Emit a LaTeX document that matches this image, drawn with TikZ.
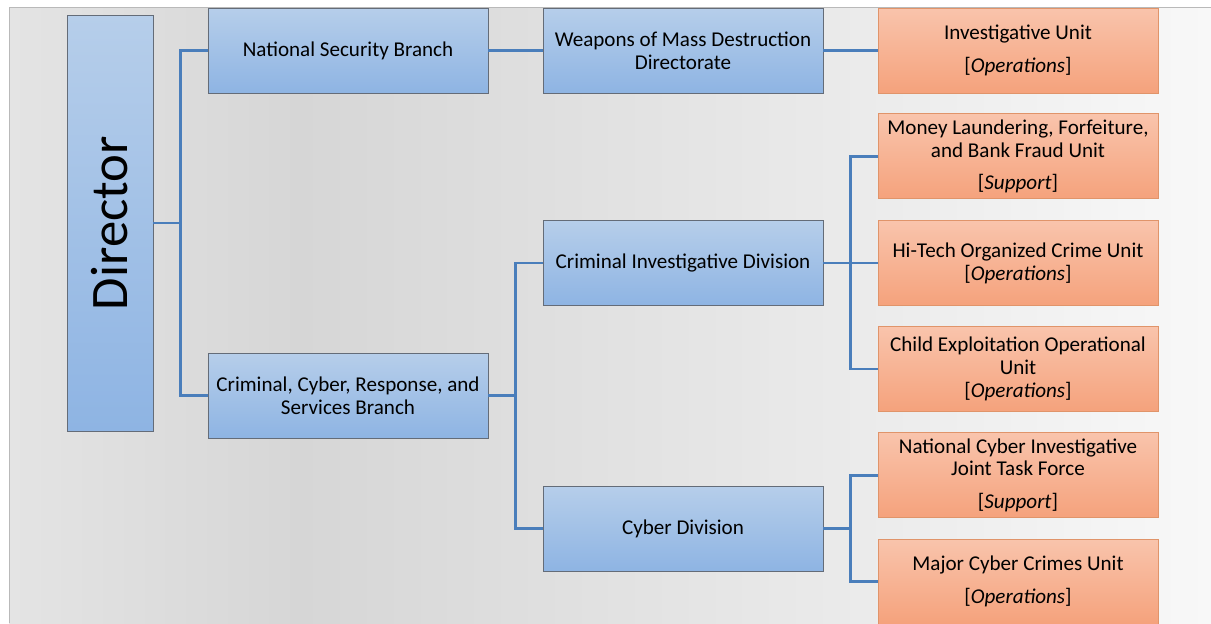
\documentclass[tikz,border=0pt]{standalone}
\usepackage{fontspec}
\setmainfont{Carlito}
\usetikzlibrary{calc}
\definecolor{wireblue}{RGB}{74,126,187}
\definecolor{bluetop}{RGB}{182,206,234}
\definecolor{bluebot}{RGB}{142,180,227}
\definecolor{blueline}{RGB}{100,108,120}
\definecolor{orangetop}{RGB}{249,196,172}
\definecolor{orangebot}{RGB}{245,162,124}
\definecolor{orangeline}{RGB}{224,148,106}
\definecolor{bgleft}{RGB}{228,228,228}
\definecolor{bgmid}{RGB}{214,214,214}
\definecolor{bgright}{RGB}{248,248,248}
\tikzstyle{boxstyle}=[minimum width=5.6cm,minimum height=1.7cm,align=center,inner sep=2pt,font=\fontsize{12}{13}\selectfont]
\tikzstyle{branchstyle}=[boxstyle,draw=blueline,top color=bluetop,bottom color=bluebot]
\tikzstyle{unitstyle}=[boxstyle,draw=orangeline,top color=orangetop,bottom color=orangebot]
\tikzstyle{wire}=[draw=wireblue,line width=1.6pt]
\newcommand{\roletag}[1]{{[}\textit{#1}{]}}

\begin{document}
\begin{tikzpicture}[x=0.02cm,y=-0.02cm]

      % one unit is one pixel of the original chart
      \def\xspace{335} % horizontal distance between columns
      \def\yspace{106.3} % vertical distance between unit boxes
      \def\shift{27} % length of the connector stubs
      \def\gap{\\[5.5pt]} % extra space above the role tag

      \useasboundingbox (0,0) rectangle (1211,623);

      % background panel (darkest a quarter of the way across)
      \shade[left color=bgleft,right color=bgmid] (9,7) rectangle (300,623);
      \shade[left color=bgmid,right color=bgright] (299.5,7) rectangle (1211,623);
      \draw[gray!55] (9,623) -- (9,7) -- (1211,7);

      % director
      \node[draw=blueline,top color=bluetop,bottom color=bluebot,minimum width=1.72cm,minimum height=8.32cm,inner sep=0pt,font=\fontsize{30}{36}\selectfont] at (110,223) (dir) {\rotatebox{90}{Director}};

      % first col: branches
      \node[branchstyle] at (348,50.5) (nsb) {National Security Branch};
      \node[branchstyle] at (348,395.5) (ccr) {Criminal, Cyber, Response, and\\Services Branch};
      % second col: directorate and divisions
      \node[branchstyle] at (348+\xspace,50.5) (wmd) {Weapons of Mass Destruction\\Directorate};
      \node[branchstyle] at (348+\xspace,263) (cid) {Criminal Investigative Division};
      \node[branchstyle] at (348+\xspace,528.5) (cyd) {Cyber Division};
      % third col: units
      \node[unitstyle] at (348+2*\xspace,50.5) (inv) {Investigative Unit\gap\roletag{Operations}};
      \node[unitstyle] at (348+2*\xspace,50+\yspace) (mlf) {Money Laundering, Forfeiture,\\and Bank Fraud Unit\gap\roletag{Support}};
      \node[unitstyle] at (348+2*\xspace,263) (hti) {Hi-Tech Organized Crime Unit\\\roletag{Operations}};
      \node[unitstyle] at (348+2*\xspace,50+3*\yspace) (ceo) {Child Exploitation Operational\\Unit\\\roletag{Operations}};
      \node[unitstyle] at (348+2*\xspace,50+4*\yspace) (nci) {National Cyber Investigative\\Joint Task Force\gap\roletag{Support}};
      \node[unitstyle] at (348+2*\xspace,50+5*\yspace) (mcc) {Major Cyber Crimes Unit\gap\roletag{Operations}};

      % Draw all wires
      \draw[wire] (dir.east) -- ++(\shift,0) |- (nsb.west);
      \draw[wire] (dir.east) -- ++(\shift,0) |- (ccr.west);
      \draw[wire] (nsb.east) -- (wmd.west);
      \draw[wire] (wmd.east) -- (inv.west);
      \draw[wire] (ccr.east) -- ++(\shift,0) |- (cid.west);
      \draw[wire] (ccr.east) -- ++(\shift,0) |- (cyd.west);
      % units under the criminal investigative division
      \draw[wire] (cid.east) -- ++(\shift,0) |- (mlf.west);
      \draw[wire] (cid.east) -- (hti.west);
      \draw[wire] (cid.east) -- ++(\shift,0) |- (ceo.west);
      % units under the cyber division
      \draw[wire] (cyd.east) -- ++(\shift,0) |- (nci.west);
      \draw[wire] (cyd.east) -- ++(\shift,0) |- (mcc.west);

   \end{tikzpicture}
\end{document}
